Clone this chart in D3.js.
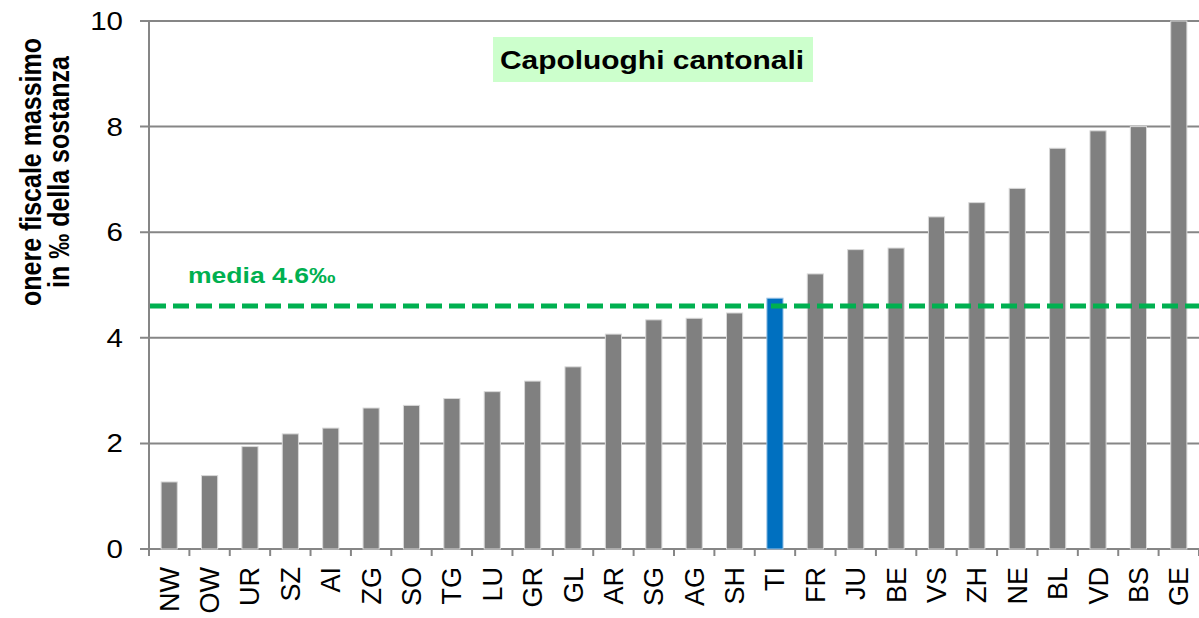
<!DOCTYPE html>
<html>
<head>
<meta charset="utf-8">
<script src="https://cdn.jsdelivr.net/npm/d3@7"></script>
<style>
  body { margin: 0; background: #fff; }
  text { font-family: "Liberation Sans", Arial, sans-serif; }
</style>
</head>
<body>
<script>
// cantoni (capoluoghi) ordered by value
const cantons = ["NW","OW","UR","SZ","AI","ZG","SO","TG","LU","GR","GL","AR","SG","AG","SH","TI","FR","JU","BE","VS","ZH","NE","BL","VD","BS","GE"];
const values  = [1.27,1.39,1.94,2.18,2.29,2.67,2.72,2.85,2.98,3.18,3.45,4.07,4.34,4.37,4.47,4.75,5.21,5.67,5.70,6.29,6.56,6.83,7.59,7.92,8.0,10.0];
const yTicks = [0, 2, 4, 6, 8, 10];
const media = 4.6;
const highlight = "TI";

const width = 1199, height = 618;
const margin = { left: 149, right: 0, top: 21, bottom: 69 };
const sx = 1.18; // the source picture is a bit wider than tall

const svg = d3.select("body").append("svg")
    .attr("width", width)
    .attr("height", height);

const x = d3.scaleBand()
    .domain(cantons)
    .range([margin.left, width - margin.right])
    .paddingInner(0.6)
    .paddingOuter(0.3);

const y = d3.scaleLinear()
    .domain([0, 10])
    .range([height - margin.bottom, margin.top]);

const grey = "#868686";

// gridlines + left ticks
svg.append("g")
    .selectAll("line")
    .data(yTicks)
    .join("line")
    .attr("x1", margin.left - 9)
    .attr("x2", width)
    .attr("y1", d => y(d))
    .attr("y2", d => y(d))
    .attr("stroke", grey)
    .attr("stroke-width", 2);

// y axis line
svg.append("line")
    .attr("x1", margin.left).attr("x2", margin.left)
    .attr("y1", y(10)).attr("y2", y(0) + 7)
    .attr("stroke", grey).attr("stroke-width", 2);

// category boundary ticks
const x0 = x.range()[0];
svg.append("g")
    .selectAll("line")
    .data(d3.range(cantons.length + 1))
    .join("line")
    .attr("x1", i => x0 + i * x.step())
    .attr("x2", i => x0 + i * x.step())
    .attr("y1", y(0))
    .attr("y2", y(0) + 7)
    .attr("stroke", grey)
    .attr("stroke-width", 2);

// y tick labels
svg.append("g")
    .selectAll("text")
    .data(yTicks)
    .join("text")
    .attr("transform", d => `translate(123,${y(d) + 9}) scale(${sx},1)`)
    .attr("text-anchor", "end")
    .attr("font-size", 25)
    .attr("fill", "#000")
    .text(d => d);

// bars
svg.append("g")
    .selectAll("rect")
    .data(cantons)
    .join("rect")
    .attr("x", d => x(d))
    .attr("width", x.bandwidth())
    .attr("y", (d, i) => y(values[i]))
    .attr("height", (d, i) => y(0) - y(values[i]))
    .attr("fill", d => d === highlight ? "#0070c0" : "#808080")
    .attr("stroke", d => d === highlight ? "#9dc3e6" : "#d9d9d9")
    .attr("stroke-width", 1);

// x labels (rotated)
svg.append("g")
    .selectAll("text")
    .data(cantons)
    .join("text")
    .attr("transform", d => `translate(${x(d) + x.bandwidth() / 2 + 9.5},567) rotate(-90)`)
    .attr("text-anchor", "end")
    .attr("font-size", 27)
    .attr("fill", "#000")
    .text(d => d);

// media line
svg.append("line")
    .attr("x1", margin.left + 1)
    .attr("x2", width)
    .attr("y1", y(media))
    .attr("y2", y(media))
    .attr("stroke", "#00b050")
    .attr("stroke-width", 5)
    .attr("stroke-dasharray", "16,7");

svg.append("text")
    .attr("transform", `translate(188,283) scale(${sx},1)`)
    .attr("font-size", 22.5)
    .attr("font-weight", "bold")
    .attr("fill", "#00b050")
    .text("media 4.6‰");

// title box
svg.append("rect")
    .attr("x", 493).attr("y", 37)
    .attr("width", 320).attr("height", 45)
    .attr("fill", "#ccffcc");

svg.append("text")
    .attr("transform", `translate(652,69) scale(${sx * 0.975},1)`)
    .attr("text-anchor", "middle")
    .attr("font-size", 26)
    .attr("font-weight", "bold")
    .attr("fill", "#000")
    .text("Capoluoghi cantonali");

// y axis title
const yt = svg.append("text")
    .attr("transform", `translate(0,172) scale(${sx},1) rotate(-90)`)
    .attr("text-anchor", "middle")
    .attr("font-size", 25)
    .attr("font-weight", "bold")
    .attr("fill", "#000");
yt.append("tspan").attr("x", 0).attr("y", 35).text("onere fiscale massimo");
yt.append("tspan").attr("x", 0).attr("y", 58.5).text("in ‰ della sostanza");
</script>
</body>
</html>
